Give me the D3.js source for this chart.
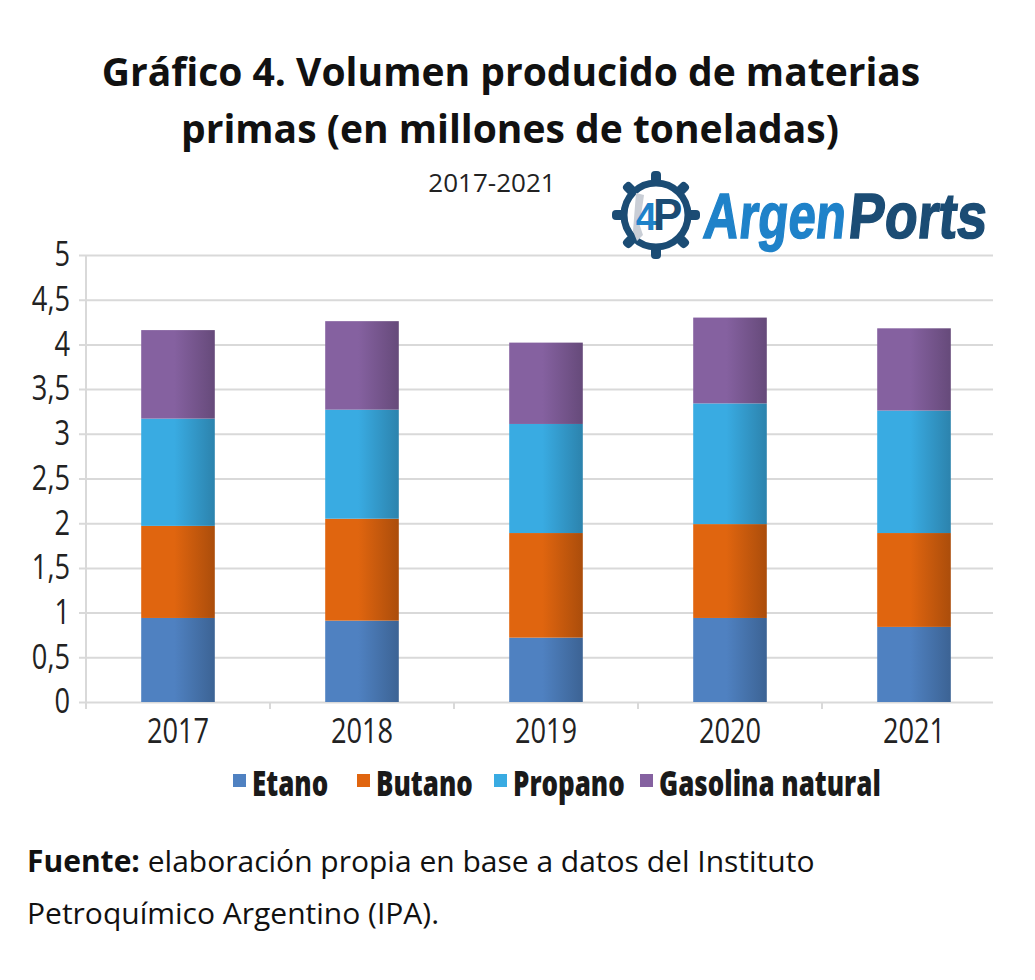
<!DOCTYPE html>
<html>
<head>
<meta charset="utf-8">
<script src="https://cdn.jsdelivr.net/npm/d3@7"></script>
<style>
  body { margin: 0; background: #fff; }
  svg { display: block; }
</style>
</head>
<body>
<script>
// data (millones de toneladas)
let years = ["2017", "2018", "2019", "2020", "2021"];
let seriesNames = ["Etano", "Butano", "Propano", "Gasolina natural"];
let etano = [0.94, 0.91, 0.72, 0.94, 0.84];
let butano = [1.03, 1.14, 1.17, 1.05, 1.05];
let propano = [1.20, 1.22, 1.22, 1.35, 1.37];
let gasolina = [0.99, 0.99, 0.91, 0.96, 0.92];
let yTicks = [0, 0.5, 1, 1.5, 2, 2.5, 3, 3.5, 4, 4.5, 5];
let colors = ["#4f81c1", "#e0650f", "#39abe2", "#8561a0"];

let width = 1035, height = 980;
let svg = d3.select("body").append("svg")
    .attr("width", width)
    .attr("height", height);

// no condensed font installed, so squeeze the glyphs
function condense(sel, k) {
  sel.each(function() {
    let w = this.getComputedTextLength();
    d3.select(this).attr("textLength", w * k).attr("lengthAdjust", "spacingAndGlyphs");
  });
}

// gradients for the bars (darker toward the right edge)
let defs = svg.append("defs");
colors.forEach((c, i) => {
  let g = defs.append("linearGradient").attr("id", "grad" + i)
      .attr("x1", "0%").attr("x2", "100%").attr("y1", "0%").attr("y2", "0%");
  g.append("stop").attr("offset", "0%").attr("stop-color", c);
  g.append("stop").attr("offset", "45%").attr("stop-color", c);
  g.append("stop").attr("offset", "100%").attr("stop-color", d3.color(c).darker(0.75));
});

// titles
let titleFont = "'Open Sans', 'Noto Sans', sans-serif";
svg.append("text").attr("x", 511).attr("y", 86)
    .attr("text-anchor", "middle").attr("font-family", titleFont)
    .attr("font-weight", 700).attr("font-size", 39).attr("fill", "#111")
    .text("Gráfico 4. Volumen producido de materias");
svg.append("text").attr("x", 510).attr("y", 143)
    .attr("text-anchor", "middle").attr("font-family", titleFont)
    .attr("font-weight", 700).attr("font-size", 39).attr("fill", "#111")
    .text("primas (en millones de toneladas)");
svg.append("text").attr("x", 492).attr("y", 192)
    .attr("text-anchor", "middle").attr("font-family", titleFont)
    .attr("font-size", 26).attr("fill", "#222")
    .text("2017-2021");

// scales
let x = d3.scaleBand().domain(years).range([86, 1006]).padding(0);
let y = d3.scaleLinear().domain([0, 5]).range([702, 255]);
let locale = d3.formatLocale({decimal: ",", thousands: ".", grouping: [3], currency: ["$", ""]});
let fmt = locale.format("~g");

let axisFont = "'Open Sans', 'Noto Sans', sans-serif";

// y grid + labels
let yAxis = svg.append("g")
    .attr("transform", "translate(79,0)")
    .call(d3.axisLeft(y).tickValues(yTicks).tickFormat(fmt).tickSize(-914).tickPadding(9));
yAxis.select(".domain").remove();
yAxis.selectAll("line").attr("stroke", "#d9d9d9").attr("stroke-width", 2);
yAxis.selectAll("text").attr("font-family", axisFont).attr("font-size", 34).attr("fill", "#222")
    .call(condense, 0.8);

// vertical axis line
svg.append("line").attr("x1", 86).attr("x2", 86).attr("y1", 255).attr("y2", 709)
    .attr("stroke", "#d9d9d9").attr("stroke-width", 2);

// x axis labels
let xAxis = svg.append("g")
    .attr("transform", "translate(0,702)")
    .call(d3.axisBottom(x).tickSize(0));
xAxis.select(".domain").remove();
xAxis.selectAll("text").attr("y", 41).attr("dy", null)
    .attr("font-family", axisFont).attr("font-size", 34).attr("fill", "#222")
    .call(condense, 0.8);

// band boundary ticks
svg.selectAll(".bTick").data(years.slice(1)).enter().append("line")
    .attr("class", "bTick")
    .attr("x1", d => x(d)).attr("x2", d => x(d))
    .attr("y1", 702).attr("y2", 709)
    .attr("stroke", "#d9d9d9").attr("stroke-width", 2);

// stacked bars
let table = years.map((yr, i) => ({
  year: yr,
  "Etano": etano[i], "Butano": butano[i], "Propano": propano[i], "Gasolina natural": gasolina[i]
}));
let stacked = d3.stack().keys(seriesNames)(table);
let barW = x.bandwidth() * 0.4;

svg.selectAll(".layer").data(stacked).enter().append("g")
    .attr("class", "layer")
    .attr("fill", (d, i) => "url(#grad" + i + ")")
  .selectAll("rect").data(d => d).enter().append("rect")
    .attr("x", d => x(d.data.year) + (x.bandwidth() - barW) / 2)
    .attr("width", barW)
    .attr("y", d => y(d[1]))
    .attr("height", d => y(d[0]) - y(d[1]));

// legend
let legendX = [233, 357, 494, 640];
let legend = svg.selectAll(".leg").data(seriesNames).enter().append("g")
    .attr("class", "leg")
    .attr("transform", (d, i) => "translate(" + legendX[i] + ",0)");
legend.append("rect").attr("x", 0).attr("y", 774).attr("width", 13).attr("height", 13)
    .attr("fill", (d, i) => colors[i]);
legend.append("text").attr("x", 19).attr("y", 796)
    .attr("font-family", axisFont).attr("font-weight", 800).attr("font-size", 36).attr("fill", "#1a1a1a")
    .text(d => d)
    .call(condense, 0.72);

// footer
let foot = svg.append("text").attr("x", 27).attr("y", 872)
    .attr("font-family", titleFont).attr("font-size", 30).attr("fill", "#111");
foot.append("tspan").attr("font-weight", 700).text("Fuente:");
foot.append("tspan").text(" elaboración propia en base a datos del Instituto");
svg.append("text").attr("x", 27).attr("y", 924)
    .attr("font-family", titleFont).attr("font-size", 30).attr("fill", "#111")
    .text("Petroquímico Argentino (IPA).");

// ArgenPorts logo
let logo = svg.append("g");
let navy = "#1b4c74", blue = "#1f82c9";
let cx = 656, cy = 215;
d3.range(8).forEach(k => {
  logo.append("rect")
      .attr("x", -5).attr("y", -44).attr("width", 10).attr("height", 14).attr("rx", 4)
      .attr("fill", navy)
      .attr("transform", "translate(" + cx + "," + cy + ") rotate(" + (k * 45) + ")");
});
logo.append("circle").attr("cx", cx).attr("cy", cy).attr("r", 32)
    .attr("fill", "#fff").attr("stroke", navy).attr("stroke-width", 7);
logo.append("path")
    .attr("d", "M" + (cx - 20) + "," + (cy - 22) + " l8,2 l-2,14 l-3,14 l4,12 l-6,6 l-4,-10 z")
    .attr("fill", "#c9ced6");
let mark = logo.append("text").attr("x", cx + 1).attr("y", cy + 15).attr("text-anchor", "middle")
    .attr("font-family", "'Liberation Sans', Arial, sans-serif").attr("font-weight", 700)
    .attr("letter-spacing", -4);
mark.append("tspan").attr("font-size", 38).attr("fill", blue).text("4");
mark.append("tspan").attr("font-size", 44).attr("fill", navy).text("P");
let brandFont = "'Liberation Sans', Arial, sans-serif";
logo.append("text").attr("x", 0).attr("y", 0)
    .attr("transform", "translate(702,238) skewX(-6)")
    .attr("font-family", brandFont).attr("font-weight", 700).attr("font-size", 64)
    .attr("fill", blue).attr("stroke", blue).attr("stroke-width", 1.5)
    .attr("textLength", 142).attr("lengthAdjust", "spacingAndGlyphs")
    .text("Argen");
logo.append("text").attr("x", 0).attr("y", 0)
    .attr("transform", "translate(847,238) skewX(-6)")
    .attr("font-family", brandFont).attr("font-weight", 700).attr("font-size", 64)
    .attr("fill", navy).attr("stroke", navy).attr("stroke-width", 1.5)
    .attr("textLength", 138).attr("lengthAdjust", "spacingAndGlyphs")
    .text("Ports");
</script>
</body>
</html>
